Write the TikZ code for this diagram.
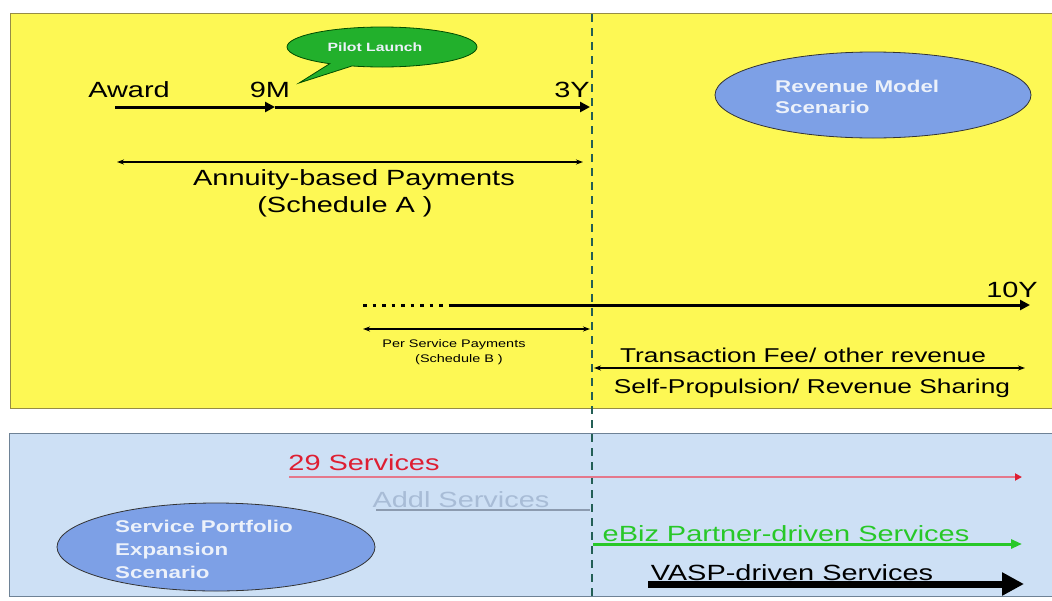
\documentclass[tikz,border=0pt]{standalone}
\usepackage{fontspec}
\setmainfont{Liberation Sans}
\usetikzlibrary{arrows.meta,shapes.geometric,shapes.callouts}
\newcommand{\X}[1]{\scalebox{1.315}[1]{#1}}
\definecolor{yel}{RGB}{253,248,84}
\definecolor{yelborder}{RGB}{150,140,70}
\definecolor{lblue}{RGB}{205,224,245}
\definecolor{lblueborder}{RGB}{110,130,150}
\definecolor{ellblue}{RGB}{125,160,230}
\definecolor{elltext}{RGB}{236,241,250}
\definecolor{pilotgreen}{RGB}{34,176,44}
\definecolor{dashcol}{RGB}{35,95,85}
\definecolor{redtxt}{RGB}{222,30,50}
\definecolor{redline}{RGB}{228,120,140}
\definecolor{addltxt}{RGB}{168,188,214}
\definecolor{addlline}{RGB}{140,155,175}
\definecolor{ebiz}{RGB}{40,200,40}
\begin{document}
\begin{tikzpicture}[x=1pt,y=-1pt,
  txt/.style={inner sep=0pt, anchor=base},
  big/.style={txt, font=\fontsize{22}{26}\selectfont},
  mid/.style={txt, font=\fontsize{20}{24}\selectfont},
  small/.style={txt, font=\fontsize{11}{13}\selectfont},
  elltxt/.style={inner sep=0pt, anchor=base west, text=elltext},
  scen/.style={ellipse, draw=black!80, line width=0.8pt, fill=ellblue, inner sep=0pt},
  thickarr/.style={line width=3pt, -{Triangle[length=10pt,width=10pt]}},
  thinarr/.style={line width=1.2pt, {Stealth[length=7pt,width=5pt]}-{Stealth[length=7pt,width=5pt]}},
  dashline/.style={draw=dashcol, line width=1.5pt, dash pattern=on 8pt off 6pt}
]
\useasboundingbox (0,0) rectangle (1052,600);
\fill[white] (0,0) rectangle (1052,600);
% panels
\fill[yel] (10,13) rectangle (1060,408);
\draw[yelborder, line width=1pt] (1060,13) -- (10,13) -- (10,408) -- (1060,408);
\fill[lblue] (9,433) rectangle (1060,596);
\draw[lblueborder, line width=1pt] (1060,433) -- (9,433) -- (9,596) -- (1060,596);
% divider
\coordinate (vtop) at (592,14);
\coordinate (vbot) at (592,600);
\draw[dashline] (vtop) -- (vbot);
% top timeline
\coordinate (t0) at (115,107);
\coordinate (t9) at (275,107);
\coordinate (t3) at (590,107);
\draw[thickarr] (t0) -- (t9);
\draw[thickarr] (t9) -- (t3);
\node[big] (award) at (129,97) {\X{Award}};
\node[big] (nine) at (270,97) {\X{9M}};
\node[big] (three) at (572,97) {\X{3Y}};
\node[ellipse callout, draw=black!70!green, line width=0.8pt, fill=pilotgreen,
      minimum width=190pt, minimum height=40pt, inner sep=0pt,
      callout absolute pointer={(299,83)},
      font=\bfseries\fontsize{12}{14}\selectfont, text=elltext] (pilot) at (382,47) {\X{Pilot Launch}\hspace*{14pt}};
% annuity
\coordinate (a0) at (117,162);
\coordinate (a1) at (583,162);
\draw[thinarr] (a0) -- (a1);
\node[big] (annuity) at (354,185) {\X{Annuity-based Payments}};
\node[big] (scheda) at (345,212) {\X{(Schedule A )}};
% revenue model
\node[scen, minimum width=316pt, minimum height=86pt] (rev) at (873,95) {};
\node[elltxt, font=\bfseries\fontsize{17}{21}\selectfont] (revtxt) at (775,92)
  {\X{\begin{tabular}[t]{@{}l@{}}Revenue Model\\Scenario\end{tabular}}};
% 10Y line
\node[big] (ten) at (1012,297) {\X{10Y}};
\coordinate (d0) at (363,305);
\coordinate (d1) at (450,305);
\coordinate (d2) at (1030,305);
\draw[line width=3pt, dash pattern=on 3.5pt off 6pt] (d0) -- (d1);
\draw[thickarr] (d1) -- (d2);
% per service
\coordinate (p0) at (363,329);
\coordinate (p1) at (590,329);
\draw[thinarr] (p0) -- (p1);
\node[small] (perserv) at (454,347) {\X{Per Service Payments}};
\node[small] (schedb) at (459,362) {\X{(Schedule B )}};
% transaction
\coordinate (r0) at (594,368);
\coordinate (r1) at (1025,368);
\draw[thinarr] (r0) -- (r1);
\node[mid] (trans) at (803,362) {\X{Transaction Fee/ other revenue}};
\node[mid] (selfp) at (812,393) {\X{Self-Propulsion/ Revenue Sharing}};
% lower panel
\node[scen, minimum width=318pt, minimum height=88pt] (spe) at (216,547) {};
\node[elltxt, font=\bfseries\fontsize{17}{23}\selectfont] (spetxt) at (115,532)
  {\X{\begin{tabular}[t]{@{}l@{}}Service Portfolio\\Expansion\\Scenario\end{tabular}}};
\node[big, text=redtxt] (s29) at (364,470) {\X{29 Services}};
\coordinate (s0) at (289,477);
\coordinate (s1) at (1022,477);
\draw[redline, line width=2.5pt, -{Triangle[length=7pt,width=7pt,color=redtxt]}] (s0) -- (s1);
\node[big, text=addltxt] (addl) at (461,507) {\X{Addl Services}};
\coordinate (ad0) at (376,510);
\coordinate (ad1) at (590,510);
\draw[addlline, line width=1.5pt] (ad0) -- (ad1);
\node[big, text=ebiz] (ebiztxt) at (786,541) {\X{eBiz Partner-driven Services}};
\coordinate (e0) at (593,544);
\coordinate (e1) at (1022,544);
\draw[ebiz, line width=3pt, -{Triangle[length=11pt,width=9pt]}] (e0) -- (e1);
\node[big] (vasp) at (792,580) {\X{VASP-driven Services}};
\coordinate (v0) at (648,584);
\coordinate (v1) at (1024,584);
\draw[line width=7pt, -{Triangle[length=22pt,width=22pt]}] (v0) -- (v1);
\end{tikzpicture}
\end{document}
